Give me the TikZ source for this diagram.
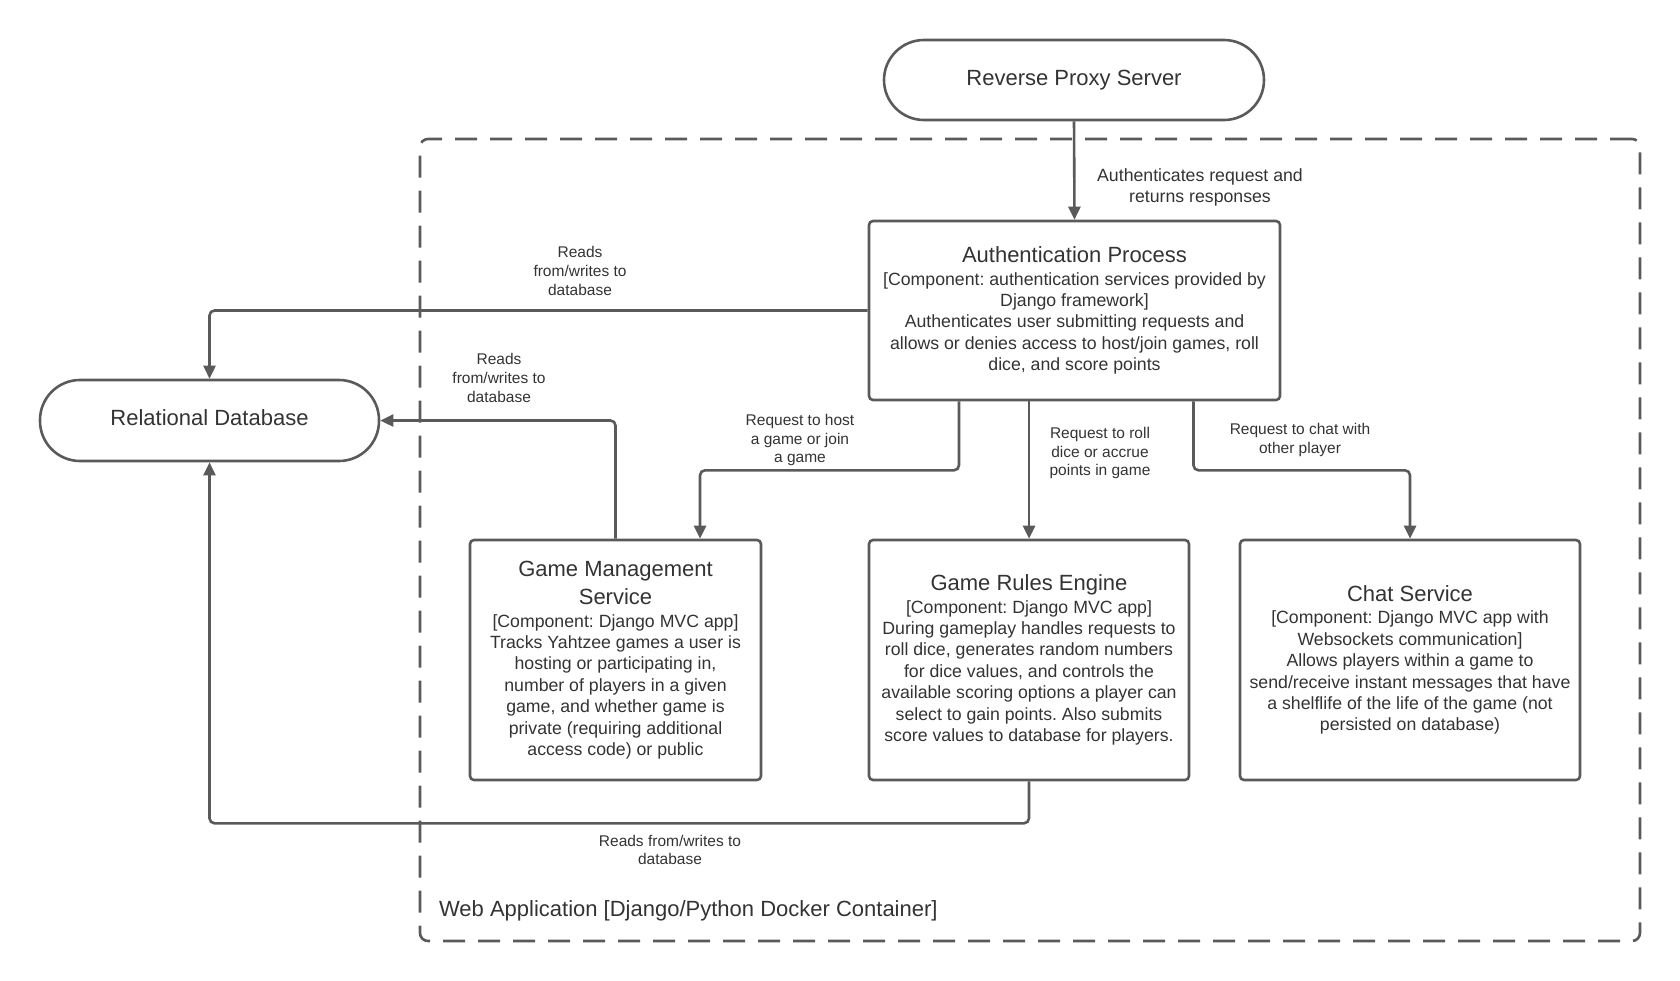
\documentclass[tikz,border=0pt]{standalone}
\usepackage{fontspec}
\setmainfont{Liberation Sans}
\usetikzlibrary{arrows.meta,positioning,calc}
\definecolor{linegray}{HTML}{5A5A5A}
\definecolor{textgray}{HTML}{333333}
\newcommand{\boxtitle}[1]{{\fontsize{11}{13.4}\selectfont #1}}
\frenchspacing

\begin{document}
\begin{tikzpicture}[x=0.5pt, y=-0.5pt,
  comp/.style={draw=linegray, line width=1.3pt, rounded corners=2pt, align=center,
    text=textgray, font=\fontsize{8.85}{10.7}\selectfont, inner sep=0pt},
  term/.style={draw=linegray, line width=1.3pt, rounded corners=20pt,
    text=textgray, font=\fontsize{11}{13.4}\selectfont},
  conn/.style={draw=linegray, line width=1.3pt, rounded corners=2.5pt,
    -{Triangle[length=6.5pt,width=6pt]}},
  lbl/.style={align=center, text=textgray, font=\fontsize{7.75}{9.4}\selectfont},
  lblbig/.style={align=center, text=textgray, font=\fontsize{8.85}{10.5}\selectfont},
  container/.style={draw=linegray, line width=1.3pt, rounded corners=4pt,
    dash pattern=on 11pt off 6.5pt}]
\useasboundingbox (0,0) rectangle (1680,980);
% Container boundary
\node[container, minimum width=610pt, minimum height=401pt] (webapp) at (1030,540) {};
\node[anchor=west, text=textgray, font=\fontsize{11}{13.4}\selectfont] (webapplbl) at (432,911)
  {Web Application [Django/Python Docker Container]};
% External elements
\node[term, minimum width=190pt, minimum height=40pt] (proxy) at (1074,80) {Reverse Proxy Server};
\node[term, minimum width=169.5pt, minimum height=40.5pt, text depth=3pt] (db) at (209.5,420.5)
  {Relational Database};
% Components
\node[comp, minimum width=205.5pt, minimum height=89.5pt] (auth) at (1074.5,310.5)
  {\boxtitle{Authentication Process}\\[0.5pt]
   [Component: authentication services provided by\\
   Django framework]\\
   Authenticates user submitting requests and\\
   allows or denies access to host/join games, roll\\
   dice, and score points};
\node[comp, minimum width=145.5pt, minimum height=120pt] (gm) at (615.5,660)
  {\boxtitle{Game Management}\\[3.5pt]
   \boxtitle{Service}\\[0.5pt]
   [Component: Django MVC app]\\
   Tracks Yahtzee games a user is\\
   hosting or participating in,\\
   number of players in a given\\
   game, and whether game is\\
   private (requiring additional\\
   access code) or public};
\node[comp, minimum width=160pt, minimum height=120pt] (gre) at (1029,660)
  {\boxtitle{Game Rules Engine}\\[0.5pt]
   [Component: Django MVC app]\\
   During gameplay handles requests to\\
   roll dice, generates random numbers\\
   for dice values, and controls the\\
   available scoring options a player can\\
   select to gain points. Also submits\\
   score values to database for players.};
\node[comp, minimum width=170pt, minimum height=120pt] (chat) at (1410,660)
  {\boxtitle{Chat Service}\\[0.5pt]
   [Component: Django MVC app with\\
   Websockets communication]\\
   Allows players within a game to\\
   send/receive instant messages that have\\
   a shelflife of the life of the game (not\\
   persisted on database)};
% Connectors
\draw[conn] (proxy.south) -- (auth.north);
\draw[conn] (auth.west) -| (db.north);
\draw[conn] (gm.north) |- (db.east);
\draw[conn] ([xshift=-57.75pt]auth.south) -- ++(0,69) -| ([xshift=42.25pt]gm.north);
\draw[conn] (auth.south -| gre.north) -- (gre.north);
\draw[conn] ([xshift=59.5pt]auth.south) -- ++(0,69) -| (chat.north);
\draw[conn] (gre.south) -- ++(0,42) -| (db.south);
% Connector labels
\node[lblbig] (lproxy) at (1200,187.5) {Authenticates request and\\returns responses};
\node[lbl] (lauthdb) at (580,271) {Reads\\from/writes to\\database};
\node[lbl] (lgmdb) at (499,378) {Reads\\from/writes to\\database};
\node[lbl] (lhost) at (800,440) {Request to host\\a game or join\\a game};
\node[lbl] (lroll) at (1100,453) {Request to roll\\dice or accrue\\points in game};
\node[lbl] (lchat) at (1300,440) {Request to chat with\\other player};
\node[lbl] (lgredb) at (670,850) {Reads from/writes to\\database};
\end{tikzpicture}
\end{document}
